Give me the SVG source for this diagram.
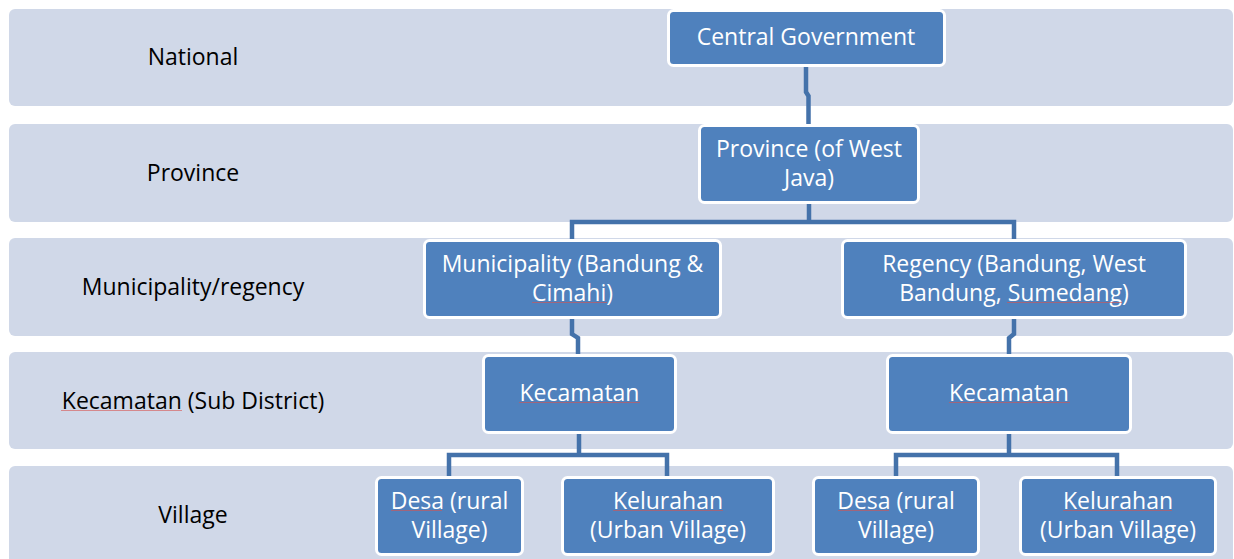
<svg xmlns="http://www.w3.org/2000/svg" width="1234" height="559" viewBox="0 0 1234 559">
<style>
.band{fill:#D0D8E8}
.lbl{font-family:"Open Sans","Liberation Sans",sans-serif;font-size:23px;fill:#000;text-anchor:middle}
.node rect{fill:#4F81BD;stroke:#fff;stroke-width:3}
.node text{font-family:"Open Sans","Liberation Sans",sans-serif;font-size:23px;fill:#fff;text-anchor:middle}
.conn path{fill:none;stroke:#4472AA;stroke-width:4.5}
.sp line{stroke:#D9534F;stroke-width:1;stroke-opacity:0.6}
</style>
<rect width="1234" height="559" fill="#fff"/>
<g id="bands">
<rect class="band" x="9" y="9" width="1224" height="97" rx="6"/>
<rect class="band" x="9" y="124" width="1224" height="98" rx="6"/>
<rect class="band" x="9" y="238" width="1224" height="98" rx="6"/>
<rect class="band" x="9" y="352" width="1224" height="97" rx="6"/>
<rect class="band" x="9" y="466" width="1224" height="110" rx="6"/>
</g>
<g id="levels">
<text class="lbl" x="193" y="65">National</text>
<text class="lbl" x="193" y="181">Province</text>
<text class="lbl" x="193" y="295">Municipality/regency</text>
<text class="lbl" x="193" y="409">Kecamatan (Sub District)</text>
<text class="lbl" x="193" y="523">Village</text>
</g>
<g id="connectors" class="conn">
<path d="M806 66 V92 L808.5 96 V124"/>
<path d="M809 202 V222"/>
<path d="M572 242 V222 H1014 V242"/>
<path d="M572 318 V334 L578 338 V356"/>
<path d="M1014 318 V334 L1009 338 V356"/>
<path d="M579 432 V455"/>
<path d="M449 478 V455 H667 V478"/>
<path d="M1009 432 V455"/>
<path d="M896 478 V455 H1117 V478"/>
</g>
<g id="n-central" class="node">
<rect x="668.5" y="10.5" width="276" height="55" rx="5"/>
<text x="806" y="45">Central Government</text>
</g>
<g id="n-province" class="node">
<rect x="699.5" y="125.5" width="219" height="77" rx="5"/>
<text x="809" y="157">Province (of West</text>
<text x="809" y="186">Java)</text>
</g>
<g id="n-municipality" class="node">
<rect x="424.5" y="240.5" width="296" height="77" rx="5"/>
<text x="572.5" y="272">Municipality (Bandung &amp;</text>
<text x="572.5" y="301">Cimahi)</text>
</g>
<g id="n-regency" class="node">
<rect x="842.5" y="240.5" width="343" height="77" rx="5"/>
<text x="1014" y="272">Regency (Bandung, West</text>
<text x="1014" y="301">Bandung, Sumedang)</text>
</g>
<g id="n-kec-left" class="node">
<rect x="483.5" y="355.5" width="192" height="77" rx="5"/>
<text x="579.5" y="401">Kecamatan</text>
</g>
<g id="n-kec-right" class="node">
<rect x="887.5" y="355.5" width="243" height="77" rx="5"/>
<text x="1009" y="401">Kecamatan</text>
</g>
<g id="n-desa-left" class="node">
<rect x="376.5" y="477.5" width="146" height="77" rx="5"/>
<text x="449.5" y="509">Desa (rural</text>
<text x="449.5" y="538">Village)</text>
</g>
<g id="n-kel-left" class="node">
<rect x="562.5" y="477.5" width="211" height="77" rx="5"/>
<text x="668" y="509">Kelurahan</text>
<text x="668" y="538">(Urban Village)</text>
</g>
<g id="n-desa-right" class="node">
<rect x="813.5" y="477.5" width="165" height="77" rx="5"/>
<text x="896" y="509">Desa (rural</text>
<text x="896" y="538">Village)</text>
</g>
<g id="n-kel-right" class="node">
<rect x="1020.5" y="477.5" width="195" height="77" rx="5"/>
<text x="1118" y="509">Kelurahan</text>
<text x="1118" y="538">(Urban Village)</text>
</g>
<g id="spellcheck" class="sp">
<line x1="61" y1="410.5" x2="182" y2="410.5"/>
<line x1="532" y1="302.5" x2="607" y2="302.5"/>
<line x1="1007" y1="302.5" x2="1122" y2="302.5"/>
<line x1="519" y1="402.5" x2="640" y2="402.5"/>
<line x1="949" y1="402.5" x2="1070" y2="402.5"/>
<line x1="391" y1="510.5" x2="442" y2="510.5"/>
<line x1="613" y1="510.5" x2="723" y2="510.5"/>
<line x1="838" y1="510.5" x2="889" y2="510.5"/>
<line x1="1063" y1="510.5" x2="1172" y2="510.5"/>
</g>
</svg>
